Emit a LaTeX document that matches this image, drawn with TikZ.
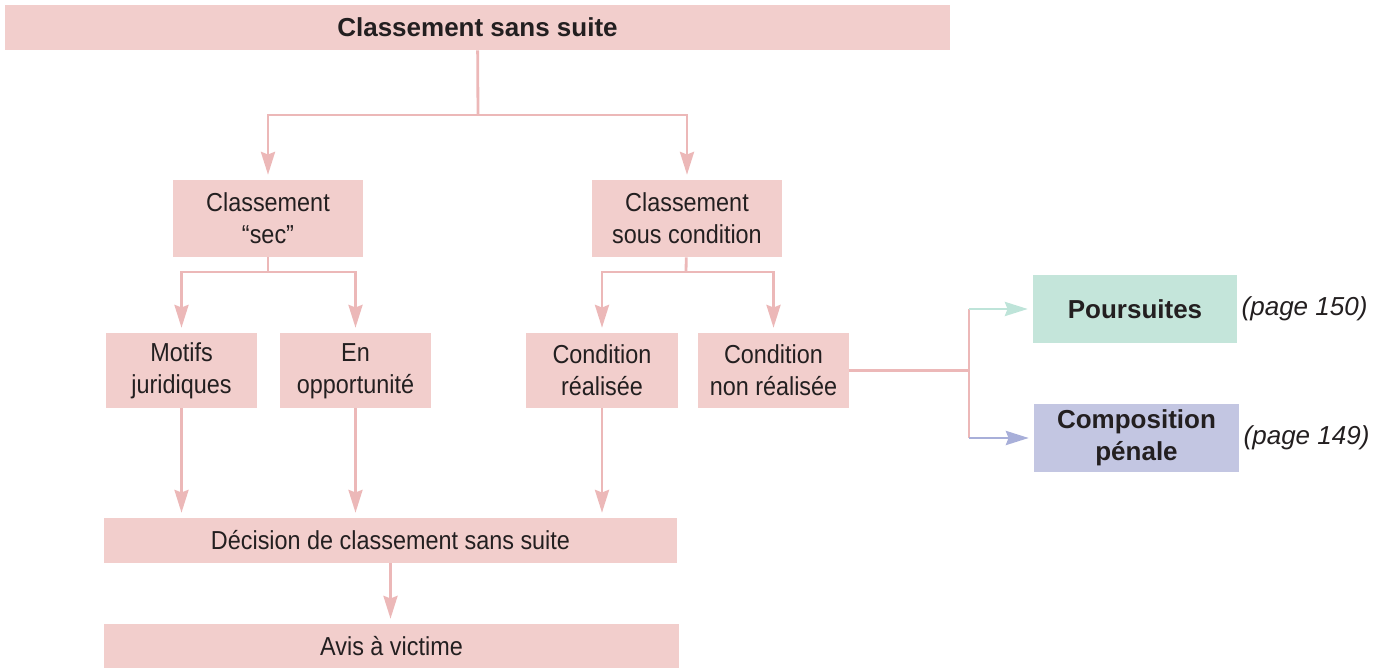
\documentclass[tikz,border=0pt]{standalone}
\usepackage{fontspec}
\setmainfont{Liberation Sans}
\newfontfamily\narrowfont[FakeStretch=0.9]{Liberation Sans}
\usepackage{xcolor}
\usetikzlibrary{positioning,arrows.meta}

\definecolor{boxpink}{HTML}{F2CECC}
\definecolor{linepink}{HTML}{ECB8B8}
\definecolor{boxgreen}{HTML}{C4E5DA}
\definecolor{linegreen}{HTML}{BEE4D9}
\definecolor{boxblue}{HTML}{C3C6E2}
\definecolor{lineblue}{HTML}{A8AFD9}
\definecolor{ink}{HTML}{231F20}

\begin{document}
\begin{tikzpicture}[x=0.02cm, y=-0.02cm, node distance = 0.08cm,
        font=\fontsize{14.8}{18.1}\selectfont, text=ink]
            \tikzstyle{stage} = [fill=boxpink, inner sep=0pt, align=center, font=\narrowfont\fontsize{14.8}{18.1}\selectfont]
            \tikzstyle{outcome} = [inner sep=0pt, align=center, font=\bfseries\fontsize{14.8}{18.1}\selectfont]
            \tikzstyle{pageref} = [inner sep=0pt, font=\itshape\fontsize{14.8}{18.1}\selectfont]
            \tikzstyle{link} = [draw=linepink, line width=1.6pt]
            \tikzstyle{arr} = [link, -{Stealth[length=13pt, width=8pt, inset=1.5pt]}, shorten >=2.8pt]
            \useasboundingbox (0,0) rectangle (1387,668);

            \node [stage, font=\bfseries\fontsize{14.8}{18.1}\selectfont, minimum width=18.9cm, minimum height=0.9cm] (top) at (477.5,27.5) {Classement sans suite};

            \node [stage, minimum width=3.8cm, minimum height=1.54cm] (sec) at (268,218.5) {Classement\\“sec”};
            \node [stage, minimum width=3.8cm, minimum height=1.54cm] (cond) at (687,218.5) {Classement\\sous condition};

            \node [stage, minimum width=3.02cm, minimum height=1.5cm] (motifs) at (181.5,370.5) {Motifs\\juridiques};
            \node [stage, minimum width=3.02cm, minimum height=1.5cm] (oppo) at (355.5,370.5) {\vphantom{f}En\\opportunité};
            \node [stage, minimum width=3.04cm, minimum height=1.5cm] (real) at (602,370.5) {Condition\\réalisée};
            \node [stage, minimum width=3.02cm, minimum height=1.5cm] (nonreal) at (773.5,370.5) {Condition\\non réalisée};

            \node [stage, minimum width=11.46cm, minimum height=0.9cm] (decision) at (390.5,540.5) {Décision de classement sans suite};
            \node [stage, minimum width=11.5cm, minimum height=0.88cm] (avis) at (391.5,646) {Avis à victime};

            \node [outcome, fill=boxgreen, minimum width=4.08cm, minimum height=1.36cm] (pours) at (1135,309) {Poursuites};
            \node [outcome, fill=boxblue, minimum width=4.1cm, minimum height=1.36cm] (compo) at (1136.5,438) {Composition\\pénale};
            \node [pageref, right = of pours] (pref1) {(page 150)};
            \node [pageref, right = of compo] (pref2) {(page 149)};

            \coordinate (j1) at (478,115);
            \coordinate (j2) at (268,272);
            \coordinate (j3) at (686,272);
            \coordinate (j4) at (969,370.5);
            \coordinate (jp) at (969,309);
            \coordinate (jc) at (969,438);

            \draw [link] (top) -- (j1);
            \draw [arr] (j1) -| (sec);
            \draw [arr] (j1) -| (cond);
            \draw [link] (sec) -- (j2);
            \draw [arr] (j2) -| (motifs);
            \draw [arr] (j2) -| (oppo);
            \draw [link] (cond) -- (j3);
            \draw [arr] (j3) -| (real);
            \draw [arr] (j3) -| (nonreal);

            \draw [arr] (motifs) -- (motifs |- decision.north);
            \draw [arr] (oppo) -- (oppo |- decision.north);
            \draw [arr] (real) -- (real |- decision.north);
            \draw [arr] (decision) -- (decision |- avis.north);

            \draw [link] (nonreal) -- (j4);
            \draw [link] (jp) -- (jc);
            \draw [arr, draw=linegreen] (jp) -- (pours);
            \draw [arr, draw=lineblue] (jc) -- (compo);
        \end{tikzpicture}
\end{document}
